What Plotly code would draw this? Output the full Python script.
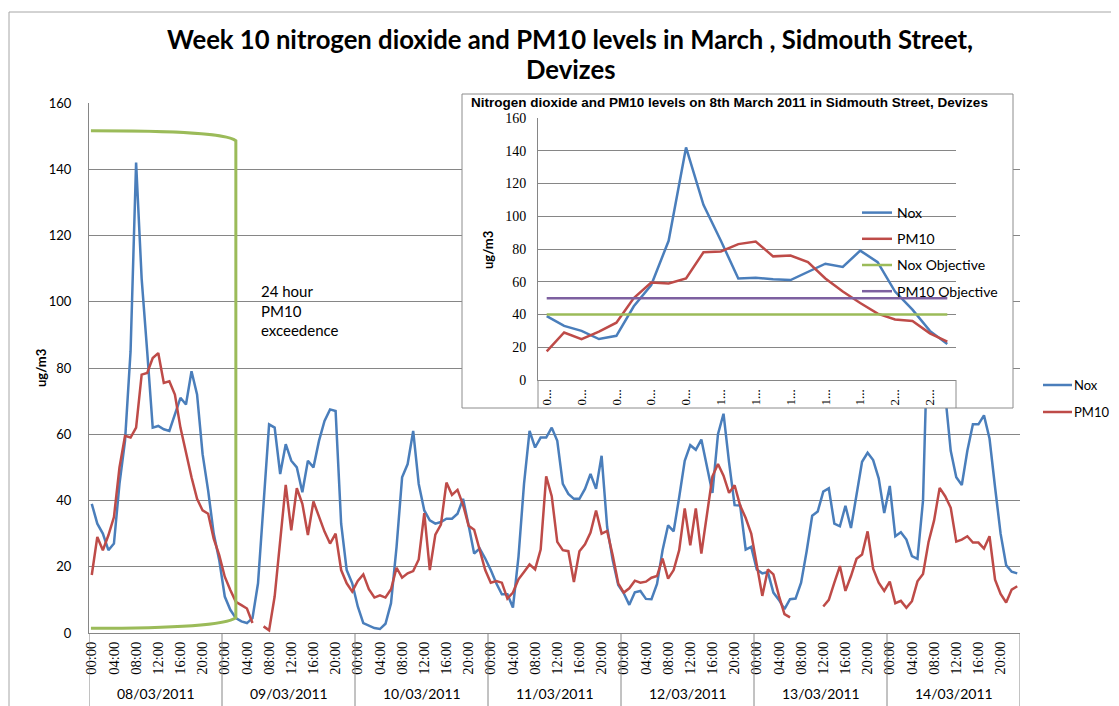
import plotly.graph_objects as go

# ---------------- data ----------------
dates = ["08/03/2011", "09/03/2011", "10/03/2011", "11/03/2011",
         "12/03/2011", "13/03/2011", "14/03/2011"]
hours = ["00:00", "01:00", "02:00", "03:00", "04:00", "05:00", "06:00", "07:00",
         "08:00", "09:00", "10:00", "11:00", "12:00", "13:00", "14:00", "15:00",
         "16:00", "17:00", "18:00", "19:00", "20:00", "21:00", "22:00", "23:00"]
time_tick_labels = ["00:00", "04:00", "08:00", "12:00", "16:00", "20:00"]
inset_tick_labels = ["0...", "0...", "0...", "0...", "0...", "1...",
                     "1...", "1...", "1...", "1...", "2...", "2..."]
series_names = ["Nox", "PM10"]

nox_08 = [39, 33, 30, 25, 27, 45, 58, 85, 142, 107, 85, 62, 62.5, 61.5, 61, 66, 71, 69, 79, 72, 54, 43, 30, 22]
nox_09 = [11, 7, 4.5, 3.5, 3, 4.5, 15, 39, 63, 62, 48, 57, 52, 50, 42.5, 52, 50, 58, 64, 67.5, 67, 33, 19, 15]
nox_10 = [8, 3, 2.2, 1.5, 1.2, 2.8, 9, 26, 47, 51, 61, 45, 37, 34, 33, 33.5, 34.5, 34.5, 36, 40.5, 32.5, 24, 25.5, 22.5]
nox_11 = [19, 15, 11.7, 11.7, 7.7, 23, 45, 61, 56, 59, 59, 62, 58, 45, 42, 40.5, 40.5, 43.5, 48, 43.5, 53.5, 32, 22, 14.5]
nox_12 = [12, 8.5, 12.3, 12.7, 10.3, 10.2, 14.8, 25, 32.5, 30.7, 41, 52, 56.7, 55.3, 58.4, 50.3, 42.3, 60, 66.2, 51.5, 38.6, 38.5, 25.2, 26]
nox_13 = [19.2, 18, 18.4, 12.2, 10, 7.2, 10.2, 10.4, 15.2, 24.7, 35.4, 36.7, 42.7, 43.7, 33, 32.2, 38.4, 31.7, 42.2, 51.7, 54.4, 52.2, 46.7, 36.2]
nox_14 = [44.4, 29.2, 30.4, 28.2, 23.2, 22.4, 40, 100, 120, 95, 72, 55, 47, 44.7, 55, 63, 63, 65.7, 58.7, 44, 30, 20.5, 18.5, 18]

pm10_08 = [17.5, 29, 25, 29.5, 35, 50, 59.5, 59, 62, 78, 78.5, 83, 84.5, 75.5, 76, 72, 62, 54, 47, 40.5, 37, 36, 28.5, 23.5]
pm10_09 = [17, 13, 9.4, 8.4, 7.4, 3, None, 2, 0.8, 11, 28, 44.7, 31, 43.7, 39, 29.6, 39.7, 35, 30.6, 27, 30, 19, 15, 12.5]
pm10_10 = [15.7, 17.7, 13.2, 10.7, 11.4, 10.7, 13.2, 19.7, 16.7, 18, 18.7, 22.2, 36.2, 19, 29.7, 32.7, 45.4, 41.7, 43.2, 38.7, 32.4, 31.2, 25.2, 19]
pm10_11 = [15.2, 15.7, 15.2, 10.4, 12.2, 16.2, 18.4, 20.7, 19.2, 25.2, 47.3, 41.3, 27.5, 25, 24.7, 15.4, 24.7, 26.8, 30.3, 37, 30, 30.8, 23.5, 15]
pm10_12 = [12.2, 13.5, 15.8, 15.2, 15.5, 16.7, 17.2, 22.5, 16.4, 19, 25, 37.6, 26.5, 37.6, 24, 36.3, 47.3, 51, 47.5, 42.3, 44.6, 38.5, 34.7, 30]
pm10_13 = [20.2, 11.2, 19.2, 17.7, 11.2, 5.7, 4.7, None, None, None, None, None, 8, 10, 15.2, 20.2, 12.7, 17.2, 22.4, 23.7, 30.7, 19.4, 15.2, 12.7]
pm10_14 = [15.5, 9, 9.7, 7.6, 9.6, 15.6, 17.8, 27.5, 34, 43.8, 41.3, 37.8, 27.6, 28.2, 29.2, 27.3, 27.3, 25.5, 29.2, 16.1, 11.8, 9.2, 13.1, 14.1]

nox_objective = 40
pm10_objective = 50

nox = nox_08 + nox_09 + nox_10 + nox_11 + nox_12 + nox_13 + nox_14
pm10 = pm10_08 + pm10_09 + pm10_10 + pm10_11 + pm10_12 + pm10_13 + pm10_14

# ---------------- styling ----------------
BLUE = "#4A7EBB"
RED = "#BE4B48"
GREEN = "#9BBB59"
PURPLE = "#7D60A0"
GRID = "#868686"
SANS = "Lato"
SERIF = "Liberation Serif"

# page body has an 8px margin: the figure is placed at (8, 8)
OFF = 8
W, H = 1119 - OFF, 706 - OFF
L, R, T, B = 89, 1020, 90, 633          # plot box in screenshot pixels
PW, PH = R - L, B - T


def px(x):
    return (x - L) / PW


def py(y):
    return (B - y) / PH


n_h = len(hours)
idx = list(range(len(nox)))
inset_idx = list(range(n_h))

fig = go.Figure()

# main series (legend drawn by hand at the right edge)
fig.add_trace(go.Scatter(x=idx, y=nox, mode="lines", name=series_names[0],
                         line=dict(color=BLUE, width=2.5), showlegend=False,
                         hoverinfo="skip"))
fig.add_trace(go.Scatter(x=idx, y=pm10, mode="lines", name=series_names[1],
                         line=dict(color=RED, width=2.5), showlegend=False,
                         hoverinfo="skip"))

# inset white background (own subplot, drawn above the main one)
fig.add_trace(go.Scatter(x=[0, 1, 1, 0, 0], y=[0, 0, 1, 1, 0], mode="lines",
                         fill="toself", fillcolor="white", line=dict(width=0),
                         xaxis="x2", yaxis="y2", showlegend=False, hoverinfo="skip"))

# inset series
fig.add_trace(go.Scatter(x=inset_idx, y=nox[:n_h], mode="lines", name="Nox",
                         line=dict(color=BLUE, width=2.5), xaxis="x3", yaxis="y3",
                         legend="legend2", legendgroup="c", hoverinfo="skip"))
fig.add_trace(go.Scatter(x=inset_idx, y=pm10[:n_h], mode="lines", name="PM10",
                         line=dict(color=RED, width=2.5), xaxis="x3", yaxis="y3",
                         legend="legend2", legendgroup="d", hoverinfo="skip"))
fig.add_trace(go.Scatter(x=inset_idx, y=[nox_objective] * n_h, mode="lines",
                         name="Nox Objective", line=dict(color=GREEN, width=2.5),
                         xaxis="x3", yaxis="y3", legend="legend2", legendgroup="e",
                         hoverinfo="skip"))
fig.add_trace(go.Scatter(x=inset_idx, y=[pm10_objective] * n_h, mode="lines",
                         name="PM10 Objective", line=dict(color=PURPLE, width=2.5),
                         xaxis="x3", yaxis="y3", legend="legend2", legendgroup="f",
                         hoverinfo="skip"))

main_tickvals = [d * n_h + h for d in range(len(dates)) for h in range(0, n_h, 4)]
main_ticktext = time_tick_labels * len(dates)

shapes = []
# chart-area border (top and left edges visible in the crop)
shapes.append(dict(type="line", xref="paper", yref="paper", x0=px(9), x1=px(1125),
                   y0=py(12), y1=py(12), line=dict(color="#a6a6a6", width=1)))
shapes.append(dict(type="line", xref="paper", yref="paper", x0=px(9), x1=px(9),
                   y0=py(12), y1=py(712), line=dict(color="#a6a6a6", width=1)))
# day separators below the category axis
for d in range(len(dates) + 1):
    shapes.append(dict(type="line", xref="x", yref="paper", x0=d * n_h - 0.5,
                       x1=d * n_h - 0.5, y0=0, y1=py(712),
                       line=dict(color=GRID, width=1)))
# inset border and category-axis box lines
shapes.append(dict(type="rect", xref="paper", yref="paper", x0=px(462), x1=px(1013),
                   y0=py(408), y1=py(94), line=dict(color="#8c8c8c", width=1),
                   layer="above"))
for xx in (538, 956):
    shapes.append(dict(type="line", xref="paper", yref="paper", x0=px(xx), x1=px(xx),
                       y0=py(380), y1=py(408), line=dict(color="#8c8c8c", width=1),
                       layer="above"))
# green bracket marking the exceedence day
bx0, bx1 = -0.15, 26.0
bracket = (f"M {bx0},151.6 C 12,151.6 24,151.2 {bx1},148.6 "
           f"L {bx1},4.6 C 24,2.2 12,1.4 {bx0},1.4")
shapes.append(dict(type="path", xref="x", yref="y", path=bracket,
                   line=dict(color=GREEN, width=3)))
# main legend keys
for k, col in enumerate((BLUE, RED)):
    yk = 385 + 27 * k
    shapes.append(dict(type="line", xref="paper", yref="paper", x0=px(1043), x1=px(1072),
                       y0=py(yk), y1=py(yk), line=dict(color=col, width=2.5)))


def note(text, x, y, size, family=SANS, angle=0, xa="center", ya="middle", align="center"):
    return dict(text=text, xref="paper", yref="paper", x=x, y=y, xanchor=xa,
                yanchor=ya, align=align, textangle=angle, showarrow=False,
                font=dict(family=family, size=size, color="black"))


annotations = [
    note("<b>Week 10 nitrogen dioxide and PM10 levels in March , Sidmouth Street,</b>",
         px(570), py(39), 25.7),
    note("<b>Devizes</b>", px(570), py(69), 25.7),
    note("<b>ug/m3</b>", px(41), py(368), 13, angle=-90),
    note("24 hour<br>PM10<br>exceedence", px(259), py(280), 15, xa="left", ya="top",
         align="left"),
    note("<b>Nitrogen dioxide and PM10 levels on 8th March 2011 in Sidmouth Street, Devizes</b>",
         px(729), py(102), 13.5, family="Liberation Sans"),
    note("<b>ug/m3</b>", px(488), py(250), 13, angle=-90),
]
for k, name in enumerate(series_names):
    annotations.append(note(name, px(1072), py(385 + 27 * k), 13, xa="left"))
for d, lab in enumerate(dates):
    annotations.append(dict(text=lab, xref="x", yref="paper", x=d * n_h + (n_h - 1) / 2,
                            y=py(693), xanchor="center", yanchor="middle", showarrow=False,
                            font=dict(family=SANS, size=14, color="black")))

fig.update_layout(
    width=W, height=H,
    margin=dict(l=L - OFF, r=1119 - R, t=T - OFF, b=H - (B - OFF), autoexpand=False),
    paper_bgcolor="white", plot_bgcolor="white",
    shapes=shapes, annotations=annotations,
    xaxis=dict(domain=[0, 1], range=[-0.5, len(nox) - 0.5], tickmode="array",
               tickvals=main_tickvals, ticktext=main_ticktext, tickangle=-90,
               tickfont=dict(family=SERIF, size=14.5, color="black"), showgrid=False,
               zeroline=False, showline=True, linecolor=GRID, linewidth=1, ticks="",
               ticklabelstandoff=2),
    yaxis=dict(domain=[0, py(103)], range=[0, 160], dtick=20, showgrid=True,
               gridcolor=GRID, gridwidth=1, zeroline=False, showline=True,
               linecolor=GRID, linewidth=1, ticks="",
               tickfont=dict(family=SANS, size=13, color="black"), ticklabelstandoff=14),
    xaxis2=dict(domain=[px(462), px(1013)], range=[0, 1], visible=False,
                anchor="y2", fixedrange=True),
    yaxis2=dict(domain=[py(408), py(94)], range=[0, 1], visible=False,
                anchor="x2", fixedrange=True),
    xaxis3=dict(domain=[px(538), px(956)], range=[-0.5, n_h - 0.5], anchor="y3",
                tickmode="array", tickvals=list(range(0, n_h, 2)), ticktext=inset_tick_labels,
                tickangle=-90, tickfont=dict(family=SERIF, size=13, color="black"),
                showgrid=False, zeroline=False, showline=True, linecolor=GRID,
                linewidth=1, ticks="", ticklabelstandoff=3),
    yaxis3=dict(domain=[py(380), py(118)], range=[0, 160], dtick=20, anchor="x3",
                showgrid=True, gridcolor=GRID, gridwidth=1, zeroline=False,
                showline=True, linecolor=GRID, linewidth=1, ticks="",
                tickfont=dict(family=SERIF, size=14, color="black"), ticklabelstandoff=8),
    legend2=dict(x=px(857), y=py(197), xanchor="left", yanchor="top",
                 bgcolor="rgba(0,0,0,0)", font=dict(family=SANS, size=14, color="black"),
                 tracegroupgap=5),
    showlegend=True,
)

fig.write_html("out.html")
